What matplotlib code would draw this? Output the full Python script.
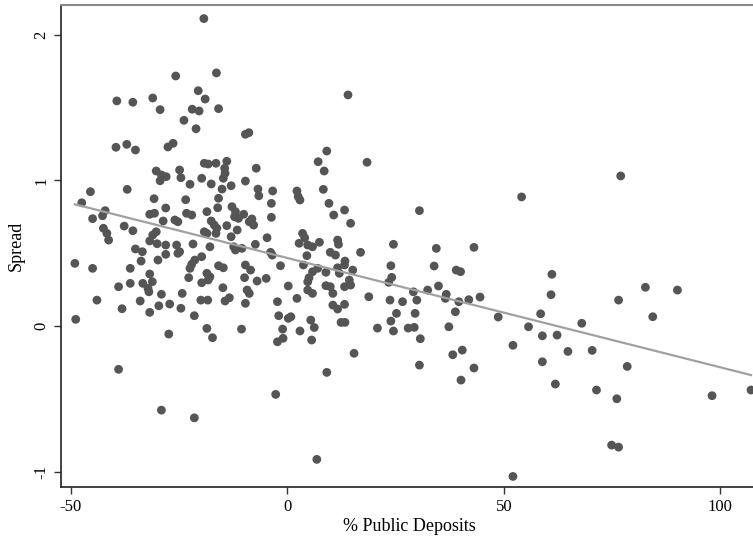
import numpy as np
import matplotlib
matplotlib.use("Agg")
import matplotlib.pyplot as plt

plt.rcParams['font.family'] = ['Liberation Serif', 'DejaVu Serif']
plt.rcParams['axes.unicode_minus'] = False

# % public deposits (x) and spread (y)
pub_dep = [
    -25.8, -39.4, -35.7, -31.1, -29.4, -39.6, -37.1, -35.1, -27.6, -26.4,
    -19.3, -16.4, -20.6, -19.0, -22.0, -20.4, -15.9, -23.9, -21.1, -9.7,
    -8.9, -19.2, -18.3, -16.5, -14.0, -7.2, -14.5, -24.9,
    14.0, 9.1, 7.1, 18.4, 8.5,
    -30.3, -29.1, -28.0, -29.4, -45.5, -37.0, -47.5, -30.8, -28.1, -42.1,
    -42.7, -45.0, -31.8, -30.7, -28.7, -37.7, -35.7, -42.5, -41.7, -41.3,
    -30.3, -31.1, -31.8, -30.1, -28.1, -35.1, -33.5, -33.8, -28.1, -29.9,
    -49.1, -45.0, -36.3, -31.8, -31.2, -33.4, -32.2, -36.3, -39.0, -32.0,
    -29.1, -44.0, -34.0, -29.7, -27.2, -38.2, -31.8, -48.9, -27.4,
    -14.4, -14.8, -24.6, -19.8, -22.5, -17.6, -9.7, -15.1, -13.0, -6.8,
    -6.6, -3.4, -23.5, -15.9, -16.1, -3.7, -18.6, -23.3, -22.1, -12.8,
    -12.0, -12.2, -11.3, -10.1, -8.2, -8.8, -7.8, -3.7, -26.0, -25.3,
    -17.6, -16.9, -16.3, -16.5, -14.0, -19.2, -18.6, -11.6, -13.0, -12.4,
    -12.0, -10.5, -4.7, -21.8, -17.9, -7.4, -25.6, -24.9, -25.3, -3.9,
    -3.5, -19.8, -21.4, -22.1, -22.5, -15.9, -14.8, -1.6, -9.7, -8.5,
    -18.6, -17.9, -18.3, -22.8, -9.9, -7.0, -4.9, -19.8, -14.9, 0.2,
    -9.3, -8.8, -24.3, -24.6, -20.0, -18.4, -14.4, -13.4, -9.7, -2.3,
    -21.5, -2.0, 0.2, -18.6, -10.6, -1.1,
    2.2, 2.5, 2.9, 8.3, 9.6, 13.2, 10.7, 14.6, 3.5, 4.0,
    2.7, 4.7, 5.8, 7.4, 11.6, 11.8, 24.5, 9.9, 11.1, 16.9,
    4.5, 13.3, 13.2, 11.6, 3.7, 23.9, 7.0, 5.8, 15.1, 8.9,
    12.0, 24.1, 23.4, 5.0, 4.7, 14.3, 14.6, 13.2, 8.9, 9.9,
    10.5, 4.7, 5.8, 2.2, 18.8, 23.7, 26.6, 10.5, 11.6, 13.2,
    25.2, 0.8, 5.4, 6.2, 12.4, 13.3, 20.8, 23.9, 24.5, 2.9, 27.9,
    -39.0, -29.1, -17.3, -2.3, -1.0, -2.7, -21.5,
    5.6, 15.4, 9.1, 6.8,
    54.1, 30.5, 34.4, 43.1, 33.9, 39.0, 40.0, 61.1, 34.9, 32.4,
    29.1, 29.9, 36.7, 36.5, 60.9, 39.6, 41.9, 44.5, 38.8, 29.5,
    58.5, 48.7, 29.3, 37.3, 55.7, 68.0, 58.9, 62.3, 30.7, 52.1,
    40.4, 38.2, 64.8, 30.5, 43.1, 58.9, 40.1, 61.9, 52.1,
    77.0, 82.7, 90.1, 76.5, 84.4, 70.4, 78.5, 71.4, 76.1, 98.1,
    107.1, 74.9, 76.5,
]
spread = [
    1.716, 1.545, 1.536, 1.565, 1.485, 1.227, 1.247, 1.208, 1.229, 1.254,
    2.110, 1.737, 1.615, 1.558, 1.488, 1.476, 1.492, 1.412, 1.354, 1.316,
    1.327, 1.117, 1.112, 1.117, 1.131, 1.083, 1.083, 1.071,
    1.586, 1.201, 1.128, 1.124, 1.064,
    1.064, 1.037, 1.025, 0.997, 0.922, 0.938, 0.846, 0.874, 0.810, 0.792,
    0.757, 0.737, 0.767, 0.774, 0.721, 0.686, 0.654, 0.671, 0.636, 0.590,
    0.647, 0.625, 0.584, 0.565, 0.556, 0.529, 0.510, 0.446, 0.492, 0.453,
    0.430, 0.396, 0.396, 0.357, 0.304, 0.293, 0.259, 0.293, 0.270, 0.235,
    0.218, 0.178, 0.172, 0.139, 0.151, 0.119, 0.094, 0.046, -0.055,
    1.048, 1.014, 1.018, 1.014, 0.973, 0.975, 0.995, 0.940, 0.963, 0.940,
    0.894, 0.927, 0.867, 0.877, 0.812, 0.842, 0.785, 0.774, 0.762, 0.819,
    0.785, 0.750, 0.739, 0.767, 0.735, 0.716, 0.693, 0.746, 0.728, 0.716,
    0.721, 0.693, 0.671, 0.636, 0.689, 0.647, 0.636, 0.659, 0.613, 0.544,
    0.522, 0.533, 0.606, 0.563, 0.544, 0.561, 0.556, 0.510, 0.499, 0.506,
    0.487, 0.476, 0.453, 0.424, 0.396, 0.414, 0.400, 0.414, 0.419, 0.384,
    0.362, 0.338, 0.316, 0.332, 0.332, 0.309, 0.327, 0.297, 0.263, 0.275,
    0.247, 0.224, 0.224, 0.122, 0.178, 0.178, 0.172, 0.194, 0.156, 0.167,
    0.071, 0.071, 0.053, -0.016, -0.021, -0.021,
    0.927, 0.888, 0.865, 0.938, 0.842, 0.796, 0.762, 0.705, 0.636, 0.606,
    0.568, 0.556, 0.544, 0.575, 0.590, 0.561, 0.561, 0.506, 0.487, 0.506,
    0.483, 0.446, 0.419, 0.400, 0.419, 0.414, 0.396, 0.373, 0.384, 0.369,
    0.362, 0.334, 0.300, 0.332, 0.304, 0.316, 0.281, 0.270, 0.277, 0.270,
    0.224, 0.247, 0.224, 0.190, 0.201, 0.178, 0.167, 0.144, 0.117, 0.149,
    0.087, 0.064, 0.041, -0.010, 0.025, 0.025, -0.014, 0.034, -0.034, -0.034, -0.014,
    -0.297, -0.577, -0.080, -0.108, -0.084, -0.469, -0.630,
    -0.096, -0.187, -0.318, -0.915,
    0.886, 0.792, 0.533, 0.540, 0.412, 0.384, 0.373, 0.355, 0.275, 0.247,
    0.235, 0.178, 0.218, 0.190, 0.215, 0.167, 0.181, 0.199, 0.098, 0.087,
    0.084, 0.062, -0.009, -0.005, -0.005, 0.019, -0.067, -0.062, -0.087, -0.132,
    -0.165, -0.197, -0.174, -0.268, -0.288, -0.245, -0.371, -0.398, -1.032,
    1.030, 0.266, 0.247, 0.178, 0.064, -0.167, -0.277, -0.439, -0.499, -0.478,
    -0.439, -0.817, -0.831,
]

# fitted line shown in the reference
fit_intercept = 0.467
fit_slope = -0.0075

x = np.array(pub_dep)
y = np.array(spread)

fig = plt.figure(figsize=(7.53, 5.43), dpi=100)
ax = fig.add_axes([0.081, 0.103, 0.925, 0.888])

ax.scatter(x, y, s=40, color='#555555', edgecolors='none', zorder=2)
xf = np.array([x.min(), x.max()])
ax.plot(xf, fit_intercept + fit_slope * xf, color='#a0a0a0', lw=1.6, zorder=3)

ax.set_xlim(-52.3, 108.6)
ax.set_ylim(-1.105, 2.204)
ax.set_xticks([-50, 0, 50, 100])
ax.set_yticks([-1, 0, 1, 2])
ax.set_yticklabels(['-1', '0', '1', '2'], rotation=90, va='center')
ax.tick_params(axis='both', labelsize=12, length=5, width=1, color='#333333')
ax.set_xlabel('% Public Deposits', fontsize=13, labelpad=2)
ax.set_ylabel('Spread', fontsize=13, labelpad=6)

ax.spines['right'].set_visible(False)
ax.spines['top'].set_color('#888888')
ax.spines['top'].set_linewidth(1.5)
for s in ['left', 'bottom']:
    ax.spines[s].set_color('#222222')
    ax.spines[s].set_linewidth(1.2)

fig.savefig('out.png', dpi=100)
